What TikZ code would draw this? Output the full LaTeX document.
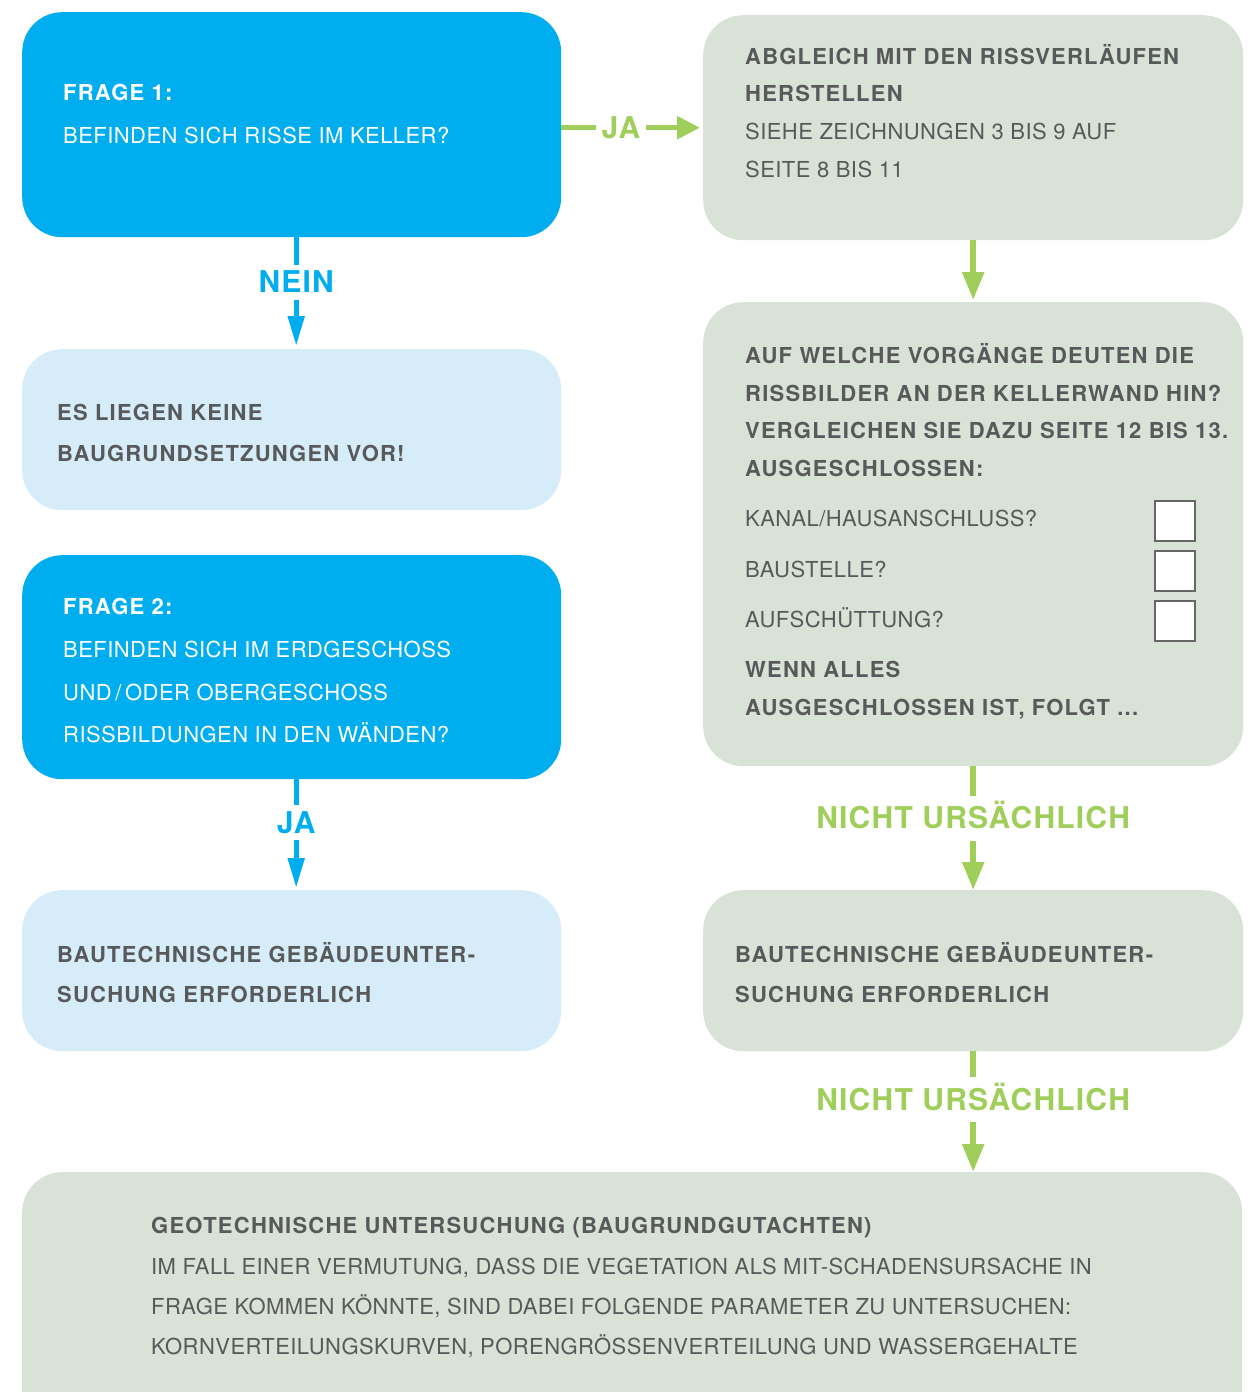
\documentclass[tikz,border=0pt]{standalone}
\usepackage{fontspec}
\setmainfont{TeX Gyre Heros}
\newfontfamily\regf[LetterSpace=2]{TeX Gyre Heros}
\newfontfamily\boldf[LetterSpace=5.5]{TeX Gyre Heros}
\newfontfamily\lblf[LetterSpace=4]{TeX Gyre Heros}
\usetikzlibrary{arrows.meta}
\definecolor{qblue}{HTML}{00AEEF}
\definecolor{lblue}{HTML}{D6EDF9}
\definecolor{sage}{HTML}{D9E2D6}
\definecolor{lgreen}{HTML}{A0CE5A}
\definecolor{tgray}{HTML}{58595B}
\tikzset{
  box/.style={rectangle, rounded corners=40pt, anchor=north west, inner sep=0pt, draw=none},
  rtext/.style={anchor=base west, inner sep=0pt, font=\regf\fontsize{22}{26}\selectfont},
  btext/.style={anchor=base west, inner sep=0pt, font=\boldf\bfseries\fontsize{22}{26}\selectfont},
  lbl/.style={fill=white, inner xsep=5pt, inner ysep=7pt, text height=21pt, text depth=0pt, font=\lblf\bfseries\fontsize{30}{34}\selectfont},
  glbl/.style={lbl, inner ysep=12pt, text=lgreen},
  bluearrow/.style={draw=qblue, line width=5pt, -{Triangle[length=30pt,width=16pt]}},
  greenarrow/.style={draw=lgreen, line width=5.5pt, -{Triangle[length=28pt,width=21pt]}},
  greenharrow/.style={draw=lgreen, line width=5.5pt, -{Triangle[length=23pt,width=22pt]}},
  chk/.style={rectangle, draw=black!60, line width=1.5pt, fill=white, minimum width=40pt, minimum height=40pt, anchor=north west, inner sep=0pt}
}
\begin{document}
\begin{tikzpicture}[x=1pt,y=-1pt]
\useasboundingbox (0,0) rectangle (1251,1392);
\clip (0,0) rectangle (1251,1392);
% boxes
\node[box, fill=qblue, minimum width=539pt, minimum height=225pt] (f1) at (22,12) {};
\node[box, fill=sage, minimum width=540pt, minimum height=225pt] (r1) at (703,15) {};
\node[box, fill=lblue, minimum width=539pt, minimum height=161pt] (es) at (22,349) {};
\node[box, fill=qblue, minimum width=539pt, minimum height=224pt] (f2) at (22,555) {};
\node[box, fill=lblue, minimum width=539pt, minimum height=161pt] (bl) at (22,890) {};
\node[box, fill=sage, minimum width=540pt, minimum height=464pt] (r2) at (703,302) {};
\node[box, fill=sage, minimum width=540pt, minimum height=161pt] (r3) at (703,890) {};
\node[box, fill=sage, minimum width=1220pt, minimum height=262pt] (geo) at (22,1172) {};
% checkboxes
\node[chk] (c1) at (1154,500) {};
\node[chk] (c2) at (1154,550) {};
\node[chk] (c3) at (1154,600) {};
% texts box f1
\node[btext, text=white] (f1a) at (63,100) {FRAGE 1:};
\node[rtext, text=white] (f1b) at (63,143) {BEFINDEN SICH RISSE IM KELLER?};
% r1
\node[btext, text=tgray] (r1a) at (745,64) {ABGLEICH MIT DEN RISSVERLÄUFEN};
\node[btext, text=tgray] (r1b) at (745,101) {HERSTELLEN};
\node[rtext, text=tgray] (r1c) at (745,139) {SIEHE ZEICHNUNGEN 3 BIS 9 AUF};
\node[rtext, text=tgray] (r1d) at (745,177) {SEITE 8 BIS 11};
% es
\node[btext, text=tgray] (esa) at (57,420) {ES LIEGEN KEINE};
\node[btext, text=tgray] (esb) at (57,461) {BAUGRUNDSETZUNGEN VOR!};
% f2
\node[btext, text=white] (f2a) at (63,614) {FRAGE 2:};
\node[rtext, text=white] (f2b) at (63,657) {BEFINDEN SICH IM ERDGESCHOSS};
\node[rtext, text=white] (f2c) at (63,700) {UND\,/\,ODER OBERGESCHOSS};
\node[rtext, text=white] (f2d) at (63,742) {RISSBILDUNGEN IN DEN WÄNDEN?};
% r2
\node[btext, text=tgray] (r2a) at (745,363) {AUF WELCHE VORGÄNGE DEUTEN DIE};
\node[btext, text=tgray] (r2b) at (745,401) {RISSBILDER AN DER KELLERWAND HIN?};
\node[btext, text=tgray] (r2c) at (745,438) {VERGLEICHEN SIE DAZU SEITE 12 BIS 13.};
\node[btext, text=tgray] (r2d) at (745,476) {AUSGESCHLOSSEN:};
\node[rtext, text=tgray] (r2e) at (745,526) {KANAL/HAUSANSCHLUSS?};
\node[rtext, text=tgray] (r2f) at (745,577) {BAUSTELLE?};
\node[rtext, text=tgray] (r2g) at (745,627) {AUFSCHÜTTUNG?};
\node[btext, text=tgray] (r2h) at (745,677) {WENN ALLES};
\node[btext, text=tgray] (r2i) at (745,715) {AUSGESCHLOSSEN IST, FOLGT ...};
% bl
\node[btext, text=tgray] (bla) at (57,962) {BAUTECHNISCHE GEBÄUDEUNTER-};
\node[btext, text=tgray] (blb) at (57,1002) {SUCHUNG ERFORDERLICH};
% r3
\node[btext, text=tgray] (r3a) at (735,962) {BAUTECHNISCHE GEBÄUDEUNTER-};
\node[btext, text=tgray] (r3b) at (735,1002) {SUCHUNG ERFORDERLICH};
% geo
\node[btext, text=tgray] (ga) at (151,1233) {GEOTECHNISCHE UNTERSUCHUNG (BAUGRUNDGUTACHTEN)};
\node[rtext, text=tgray] (gb) at (151,1274) {IM FALL EINER VERMUTUNG, DASS DIE VEGETATION ALS MIT-SCHADENSURSACHE IN};
\node[rtext, text=tgray] (gc) at (151,1314) {FRAGE KOMMEN KÖNNTE, SIND DABEI FOLGENDE PARAMETER ZU UNTERSUCHEN:};
\node[rtext, text=tgray] (gd) at (151,1354) {KORNVERTEILUNGSKURVEN, PORENGRÖSSENVERTEILUNG UND WASSERGEHALTE};
% connectors
\draw[bluearrow, shorten >=3pt] ([xshift=4.5pt]f1.south) -- node[lbl, pos=0.4, text=qblue] (nein) {NEIN} ([xshift=4.5pt]es.north);
\draw[bluearrow, shorten >=2pt] ([xshift=4.5pt]f2.south) -- node[lbl, pos=0.39, text=qblue] (ja2) {JA} ([xshift=4.5pt]bl.north);
\draw[greenharrow, shorten >=3pt] (f1.east |- r1.west) -- node[lbl, pos=0.42, text=lgreen, inner xsep=6pt] (ja1) {JA} (r1.west);
\draw[greenarrow, shorten >=2pt] (r1.south) -- (r2.north);
\draw[greenarrow] (r2.south) -- node[glbl, pos=0.42] (nu1) {NICHT URSÄCHLICH} (r3.north);
\draw[greenarrow] (r3.south) -- node[glbl, pos=0.40] (nu2) {NICHT URSÄCHLICH} (geo.north -| r3.south);
\end{tikzpicture}
\end{document}
